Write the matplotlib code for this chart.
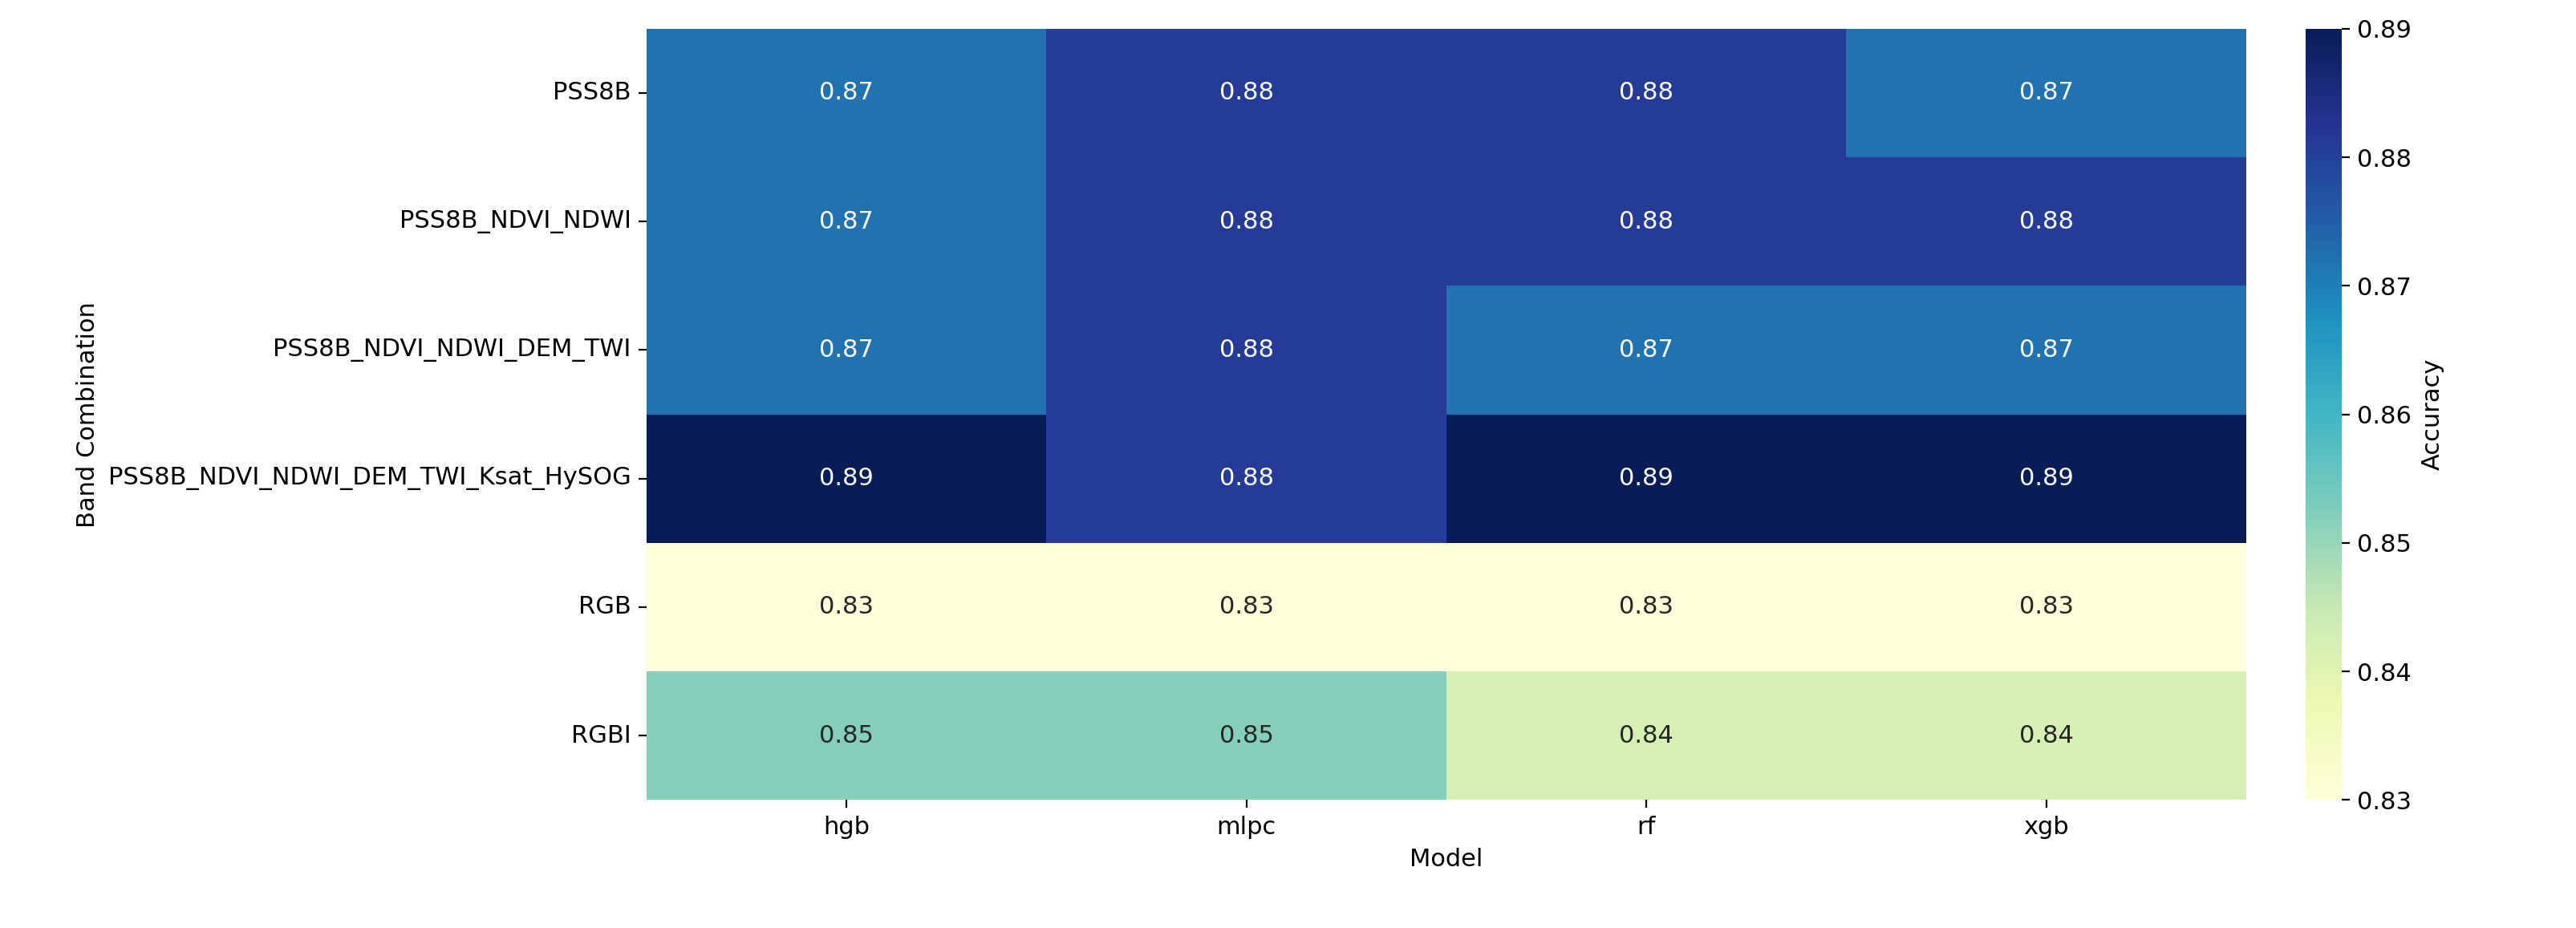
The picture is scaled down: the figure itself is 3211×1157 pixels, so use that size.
import numpy as np
import matplotlib.pyplot as plt
import seaborn as sns

models = ["hgb", "mlpc", "rf", "xgb"]
bands = ["PSS8B", "PSS8B_NDVI_NDWI", "PSS8B_NDVI_NDWI_DEM_TWI",
         "PSS8B_NDVI_NDWI_DEM_TWI_Ksat_HySOG", "RGB", "RGBI"]
acc = np.array([
    [0.872, 0.881, 0.881, 0.872],
    [0.872, 0.881, 0.881, 0.881],
    [0.872, 0.881, 0.872, 0.872],
    [0.890, 0.881, 0.890, 0.890],
    [0.830, 0.830, 0.830, 0.830],
    [0.852, 0.852, 0.842, 0.842],
])

fig = plt.figure(figsize=(16.055, 5.785), dpi=200)
ax = fig.add_axes([0.251, 0.138, 0.621, 0.831])
cax = fig.add_axes([0.895, 0.138, 0.014, 0.831])
sns.heatmap(acc, ax=ax, cbar_ax=cax, cmap="YlGnBu", vmin=0.83, vmax=0.89,
            annot=True, fmt=".2f", annot_kws={"size": 11},
            xticklabels=models, yticklabels=bands,
            cbar_kws={"label": "Accuracy"})
ax.set_xlabel("Model", fontsize=11)
ax.set_ylabel("Band Combination", fontsize=11)
ax.tick_params(labelsize=11)
ax.set_yticklabels(bands, rotation=0)
cax.tick_params(labelsize=11)
cax.yaxis.label.set_size(11)
fig.savefig("out.png")
